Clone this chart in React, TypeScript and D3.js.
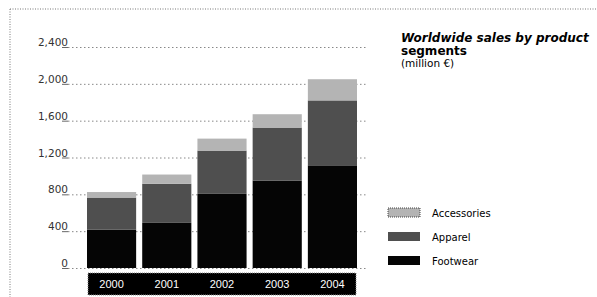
import React from "react";
import * as d3 from "d3";

const years = ["2000", "2001", "2002", "2003", "2004"];
const footwear = [415, 490, 805, 950, 1115];
const apparel = [350, 425, 470, 575, 705];
const accessories = [60, 100, 130, 145, 230];
const yTicks = [0, 400, 800, 1200, 1600, 2000, 2400];
const seriesNames = ["Footwear", "Apparel", "Accessories"];
const seriesColors = ["#050505", "#4f4f4f", "#b4b4b4"];
const titleLines = ["Worldwide sales by product", "segments", "(million €)"];

export default function App() {
  const W = 597, H = 297;
  const x = d3.scaleBand<string>().domain(years).range([87, 357]).paddingInner(0.11).paddingOuter(0);
  const y = d3.scaleLinear().domain([0, 2400]).range([268, 47]);
  const rows = years.map((yr, i) => ({ year: yr, Footwear: footwear[i], Apparel: apparel[i], Accessories: accessories[i] }));
  const stack = d3.stack<any>().keys(seriesNames)(rows);
  const font = "'DejaVu Sans', Verdana, sans-serif";

  return (
    <svg width={W} height={H} style={{ position: "absolute", left: 0, top: 0, background: "#fff" }}>
      <rect x={0} y={0} width={W} height={H} fill="#fff" />
      {/* outer dotted frame */}
      <line x1={10} y1={9} x2={W} y2={9} stroke="#777" strokeDasharray="1,1.5" />
      <line x1={10} y1={9} x2={10} y2={H} stroke="#777" strokeDasharray="1,1.5" />

      {/* gridlines and y labels */}
      {yTicks.map((t) => (
        <g key={t}>
          <line x1={62} x2={68} y1={y(t) + 0.5} y2={y(t) + 0.5} stroke="#666" />
          <line x1={68} x2={367} y1={y(t) + 0.5} y2={y(t) + 0.5} stroke="#888" strokeDasharray="1.5,2.5" />
          <text x={68} y={y(t) - 1} textAnchor="end" fontFamily={font} fontSize={10.5} fill="#333">
            {d3.format(",")(t)}
          </text>
        </g>
      ))}

      {/* bars */}
      {stack.map((s, si) => (
        <g key={s.key} fill={seriesColors[si]}>
          {s.map((d, i) => (
            <rect
              key={i}
              x={x(years[i])}
              width={x.bandwidth()}
              y={y(d[1])}
              height={y(d[0]) - y(d[1])}
            />
          ))}
        </g>
      ))}

      {/* x-axis label band */}
      <rect x={88} y={273} width={268} height={22} fill="#000" stroke="#888" strokeDasharray="1,1" />
      {years.map((yr) => (
        <text
          key={yr}
          x={(x(yr) as number) + x.bandwidth() / 2}
          y={288}
          textAnchor="middle"
          fontFamily="'Liberation Sans', Arial, sans-serif"
          fontSize={11}
          fill="#fff"
        >
          {yr}
        </text>
      ))}

      {/* title */}
      <text x={401} y={42} fontFamily={font} fontSize={12} fontWeight="bold" fontStyle="italic" fill="#000">
        {titleLines[0]}
      </text>
      <text x={401} y={55} fontFamily={font} fontSize={12} fontWeight="bold" fill="#000">
        {titleLines[1]}
      </text>
      <text x={401} y={67} fontFamily={font} fontSize={10.5} fill="#000">
        {titleLines[2]}
      </text>

      {/* legend */}
      {[2, 1, 0].map((si, k) => (
        <g key={si}>
          <rect x={388} y={208 + k * 24} width={32} height={9} fill={seriesColors[si]} stroke="#444" strokeDasharray={si === 2 ? "1,1" : undefined} strokeWidth={si === 2 ? 1 : 0} />
          <text x={432} y={217 + k * 24} fontFamily={font} fontSize={10} fill="#000">
            {seriesNames[si]}
          </text>
        </g>
      ))}
    </svg>
  );
}
